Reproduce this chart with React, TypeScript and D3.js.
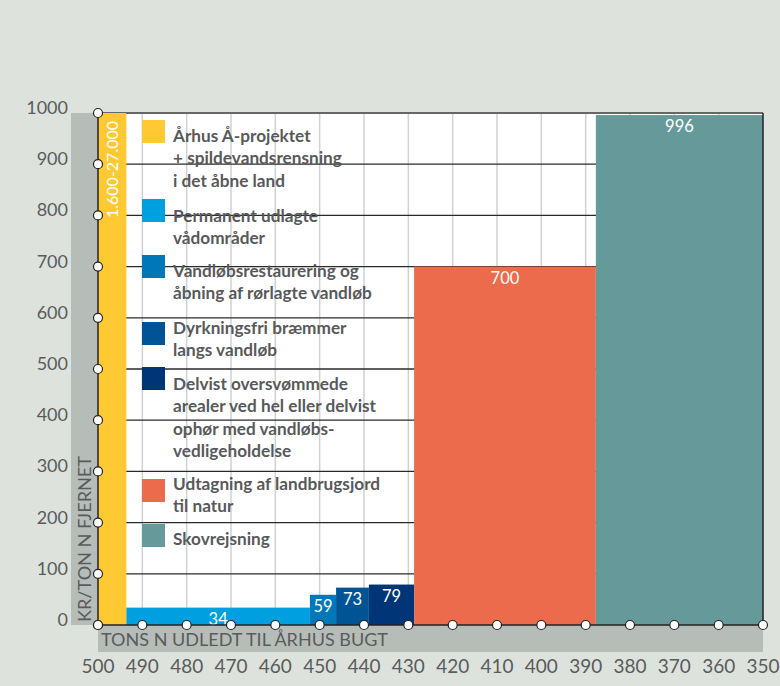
import React from 'react';
import * as d3 from 'd3';

// cost per ton N removed, by measure (first bar is capped at the axis top)
const barLabels = ['1.600-27.000', '34', '59', '73', '79', '700', '996'];
const barValues = [1000, 34, 59, 73, 79, 700, 996];
// tons N discharged: boundaries between the measures
const tonBreaks = [500, 493.6, 452.2, 446.3, 438.9, 428.7, 387.7, 350];
const barColors = ['#fec932', '#009fdf', '#0077b9', '#005495', '#003677', '#ec6b4c', '#669a9a'];

const legendLines = [
  ['Århus Å-projektet', '+ spildevandsrensning', 'i det åbne land'],
  ['Permanent udlagte', 'vådområder'],
  ['Vandløbsrestaurering og', 'åbning af rørlagte vandløb'],
  ['Dyrkningsfri bræmmer', 'langs vandløb'],
  ['Delvist oversvømmede', 'arealer ved hel eller delvist', 'ophør med vandløbs-', 'vedligeholdelse'],
  ['Udtagning af landbrugsjord', 'til natur'],
  ['Skovrejsning'],
];
// legend placement: [square top, first text baseline]
const legendPos = [
  [120, 142],
  [199, 222],
  [255, 277],
  [322, 334],
  [367, 390],
  [479, 490],
  [524, 545],
];

const xTicks = d3.range(500, 349, -10);
const yTicks = d3.range(0, 1001, 100);

const W = 780;
const H = 686;
const left = 98;
const right = 763;
const top = 113;
const bottom = 625;

const App: React.FC = () => {
  const x = d3.scaleLinear().domain([500, 350]).range([left, right]);
  const y = d3.scaleLinear().domain([0, 1000]).range([bottom, top]);
  const grey = '#5a5b5d';
  const font = 'Lato, "Open Sans", sans-serif';

  return (
    <div style={{ position: 'absolute', left: 0, top: 0 }}>
      <svg width={W} height={H} style={{ display: 'block', fontFamily: font }}>
        <rect width={W} height={H} fill='#dde3dc' />
        {/* side bands */}
        <rect x={71} y={top} width={left - 71} height={bottom - top} fill='#b6bdb8' />
        <rect x={left} y={bottom} width={right - left} height={652 - bottom} fill='#b6bdb8' />
        <text
          transform={`translate(91,${bottom - 3}) rotate(-90)`}
          fontSize={17}
          fill={grey}
          textLength={166}
          lengthAdjust='spacingAndGlyphs'
        >
          KR/TON N FJERNET
        </text>
        <text x={101} y={646} fontSize={18} fill={grey} textLength={287} lengthAdjust='spacingAndGlyphs'>
          TONS N UDLEDT TIL ÅRHUS BUGT
        </text>

        {/* plot background and grid */}
        <rect x={left} y={top} width={right - left} height={bottom - top} fill='#fff' />
        {xTicks.slice(1, -1).map((t) => (
          <line key={'vx' + t} x1={x(t)} x2={x(t)} y1={top} y2={bottom} stroke='#cdd3d0' strokeWidth={1.5} />
        ))}
        {yTicks.slice(1, -1).map((t) => (
          <line key={'hy' + t} x1={left} x2={right} y1={y(t)} y2={y(t)} stroke='#2a2a2a' strokeWidth={1.3} />
        ))}
        <line x1={left} x2={right} y1={top} y2={top} stroke='#666' strokeWidth={2} />

        {/* bars */}
        {barValues.map((v, i) => {
          const x0 = x(tonBreaks[i]);
          const x1 = x(tonBreaks[i + 1]);
          return <rect key={'b' + i} x={x0} y={y(v)} width={x1 - x0} height={bottom - y(v)} fill={barColors[i]} />;
        })}
        {barValues.map((v, i) => {
          const x0 = x(tonBreaks[i]);
          const x1 = x(tonBreaks[i + 1]);
          if (i === 0) {
            return (
              <text
                key={'l' + i}
                transform={`translate(${(x0 + x1) / 2 + 6},${y(v) + 8}) rotate(-90)`}
                textAnchor='end'
                fontSize={16}
                fill='#fff'
              >
                {barLabels[i]}
              </text>
            );
          }
          return (
            <text key={'l' + i} x={(x0 + x1) / 2} y={y(v) + 17} textAnchor='middle' fontSize={16.5} fill='#fff'>
              {barLabels[i]}
            </text>
          );
        })}

        {/* legend */}
        {legendLines.map((lines, i) => (
          <g key={'lg' + i}>
            <rect x={142} y={legendPos[i][0]} width={23} height={23} fill={barColors[i]} />
            {lines.map((s, j) => (
              <text key={j} x={173} y={legendPos[i][1] + j * 22.3} fontSize={17.2} fontWeight={700} fill='#58595b'>
                {s}
              </text>
            ))}
          </g>
        ))}

        {/* axes */}
        <line x1={right} x2={right} y1={top} y2={bottom} stroke='#222' strokeWidth={1.5} />
        <line x1={left} x2={left} y1={top} y2={bottom} stroke='#222' strokeWidth={1.5} />
        <line x1={left} x2={right} y1={bottom} y2={bottom} stroke='#222' strokeWidth={1.5} />
        {yTicks.map((t) => (
          <g key={'yt' + t}>
            <circle cx={left} cy={y(t)} r={4.5} fill='#fff' stroke='#222' strokeWidth={1.2} />
            <text x={68} y={y(t) + 1} textAnchor='end' fontSize={18} fill={grey}>
              {t}
            </text>
          </g>
        ))}
        {xTicks.map((t) => (
          <g key={'xt' + t}>
            <circle cx={x(t)} cy={bottom} r={4.5} fill='#fff' stroke='#222' strokeWidth={1.2} />
            <text x={x(t)} y={673} textAnchor='middle' fontSize={19} fill={grey}>
              {t}
            </text>
          </g>
        ))}
      </svg>
    </div>
  );
};

export default App;
